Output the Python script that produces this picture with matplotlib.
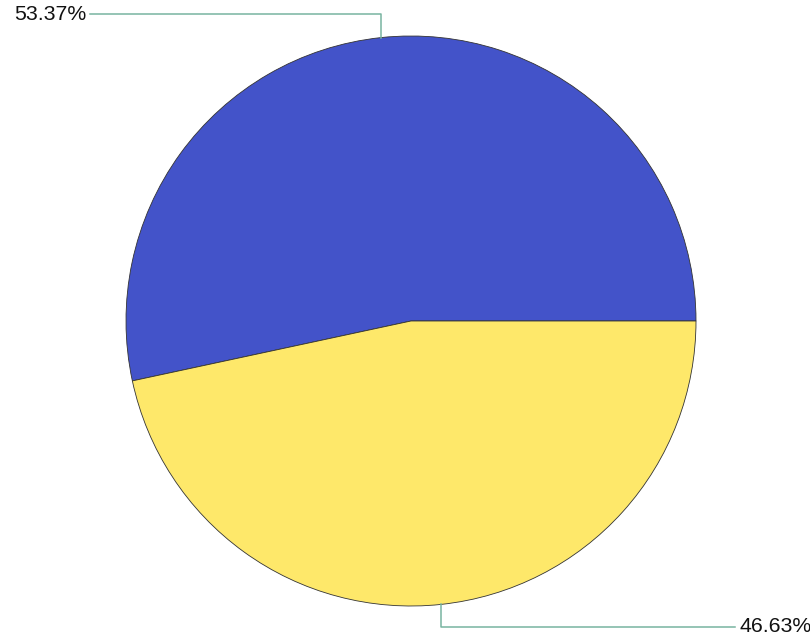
import matplotlib.pyplot as plt
import numpy as np

plt.rcParams['font.family'] = ['Liberation Sans', 'DejaVu Sans']

shares = [53.37, 46.63]
colors = ['#4353C9', '#FEE86A']
labels = ['53.37%', '46.63%']

fig = plt.figure(figsize=(8.1, 6.4), dpi=100)
ax = fig.add_axes([0, 0, 1, 1])

cx, cy, r = 411, 319, 285
wedges, _ = ax.pie(shares, colors=colors, startangle=0, counterclock=True,
                   center=(cx, cy), radius=r, frame=True,
                   wedgeprops=dict(edgecolor='#333333', linewidth=0.6))
ax.set_xlim(0, 810)
ax.set_ylim(0, 640)
ax.set_aspect('equal')
ax.axis('off')

# ведущие линии к подписям
ends = [(626, 90, 86, 'right'), (13, 735, 739, 'left')]
for w, lab, (ly, lx, tx, ha) in zip(wedges, labels, ends):
    mid = np.deg2rad((w.theta1 + w.theta2) / 2)
    px = cx + r * np.cos(mid)
    py = cy + r * np.sin(mid)
    ax.plot([px, px, lx], [py, ly, ly], color='#78B4A0', lw=1.1)
    ax.text(tx, ly, lab, ha=ha, va='center', fontsize=15.3, color='#111111')

fig.savefig('out.png', dpi=100)
